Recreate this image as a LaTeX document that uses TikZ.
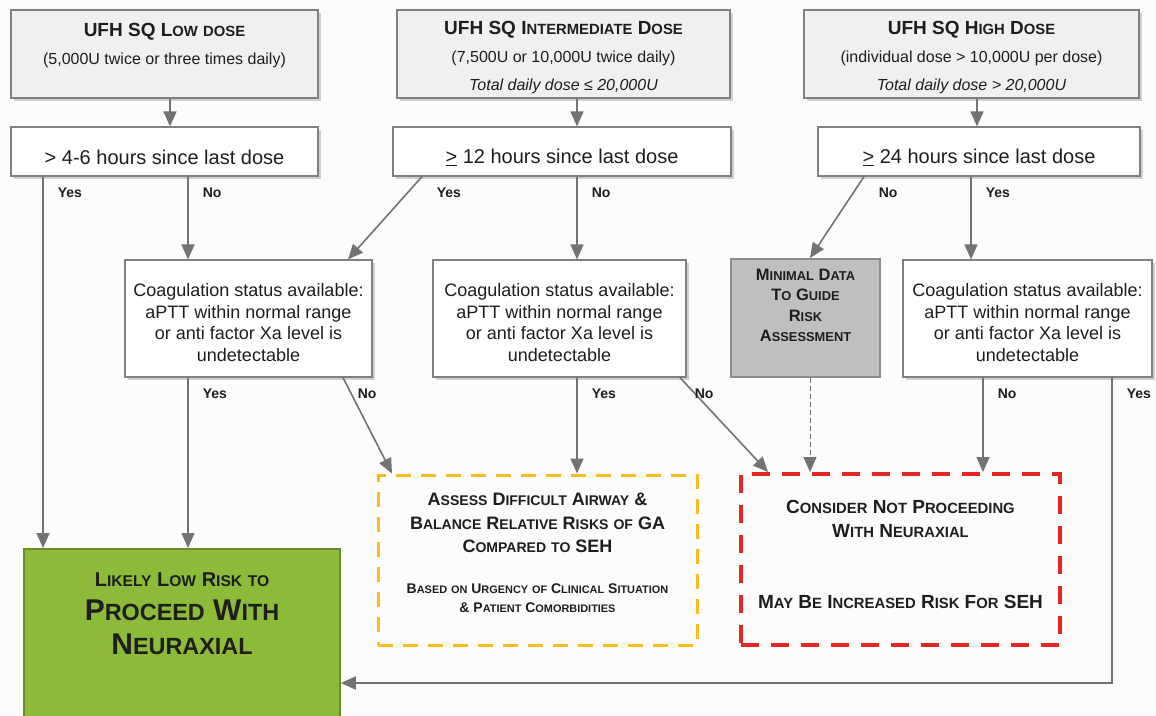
\documentclass[tikz,border=0pt]{standalone}
\usepackage{fontspec}
\setmainfont{Liberation Sans}
\usetikzlibrary{arrows.meta, positioning, shadows}

\definecolor{pagebg}{RGB}{252,252,250}
\definecolor{boxgray}{RGB}{128,128,128}
\definecolor{dosefill}{RGB}{240,240,240}
\definecolor{minfill}{RGB}{191,191,191}
\definecolor{mingray}{RGB}{140,140,140}
\definecolor{linegray}{RGB}{115,115,115}
\definecolor{ambyellow}{RGB}{248,190,30}
\definecolor{stopred}{RGB}{230,38,36}
\definecolor{gogreen}{RGB}{141,186,56}
\definecolor{goline}{RGB}{105,140,45}
\definecolor{inkblack}{RGB}{30,30,30}

% fake small capitals
\newcommand{\fsc}[1]{\scalebox{0.78}{#1}}
\newcommand{\smallline}{\fontsize{14}{14}\selectfont}
% extra room above a first line
\newcommand{\toppad}{\rule{0pt}{21pt}}

\begin{document}
\begin{tikzpicture}[
    x=1pt, y=-1pt,
    boxshadow/.style={drop shadow={shadow xshift=3pt, shadow yshift=-3pt, opacity=0.35}},
    dosebox/.style={
        rectangle, draw=boxgray, fill=dosefill, line width=1.2pt, boxshadow,
        minimum height=88pt, align=center, inner sep=2pt, text=inkblack,
        font=\fontsize{16}{28}\selectfont
    },
    timebox/.style={
        rectangle, draw=boxgray, fill=white, line width=1.2pt, boxshadow,
        minimum height=49pt, text height=26pt, inner sep=2pt, text=inkblack,
        font=\fontsize{20}{24}\selectfont
    },
    coagbox/.style={
        rectangle, draw=boxgray, fill=white, line width=1.2pt, boxshadow,
        minimum height=117pt, align=center, inner sep=2pt, text=inkblack,
        font=\fontsize{18}{21.5}\selectfont
    },
    minbox/.style={
        rectangle, draw=mingray, fill=minfill, line width=2pt,
        minimum width=149pt, minimum height=118pt, align=center, text=inkblack,
        font=\fontsize{16.5}{20.5}\selectfont\bfseries
    },
    ambbox/.style={
        rectangle, draw=ambyellow, line width=3pt, dash pattern=on 15pt off 10pt,
        minimum width=319pt, minimum height=170pt, align=center, text=inkblack,
        font=\fontsize{18}{23.5}\selectfont\bfseries
    },
    stopbox/.style={
        rectangle, draw=stopred, line width=4pt, dash pattern=on 18pt off 12pt,
        minimum width=319pt, minimum height=171pt, align=center, text=inkblack,
        font=\fontsize{19}{24}\selectfont\bfseries
    },
    gobox/.style={
        rectangle, draw=goline, fill=gogreen, line width=1.5pt,
        minimum width=316pt, minimum height=180pt, align=center, text=inkblack,
        font=\fontsize{30}{34}\selectfont\bfseries
    },
    arrow/.style={-{Triangle[length=15pt,width=13pt]}, draw=linegray, line width=1.6pt},
    dasharrow/.style={arrow, line width=1pt, dash pattern=on 5pt off 3pt},
    lab/.style={pos=0, anchor=north west, xshift=14pt, yshift=-10pt, inner sep=0pt,
        text=inkblack, font=\fontsize{14}{14}\selectfont\bfseries}
]

\path[use as bounding box, fill=pagebg] (0,0) rectangle (1156,715);

% Dose regimens
\node[dosebox, minimum width=307pt] (top1) at (164.5,54)
    {\toppad{\fontsize{19}{28}\selectfont\bfseries UFH SQ L\fsc{OW} \fsc{DOSE}}\\(5,000U twice or three times daily)\\\mbox{}};
\node[dosebox, minimum width=333pt] (top2) at (563.5,54)
    {\toppad{\fontsize{19}{28}\selectfont\bfseries UFH SQ I\fsc{NTERMEDIATE} D\fsc{OSE}}\\(7,500U or 10,000U twice daily)\\\textit{Total daily dose ≤ 20,000U}};
\node[dosebox, minimum width=335pt] (top3) at (971.5,54)
    {\toppad{\fontsize{19}{28}\selectfont\bfseries UFH SQ H\fsc{IGH} D\fsc{OSE}}\\(individual dose > 10,000U per dose)\\\textit{Total daily dose > 20,000U}};

% Time since last dose
\node[timebox, minimum width=307pt] (hrs1) at (164.5,151.5) {> 4-6 hours since last dose};
\node[timebox, minimum width=338pt] (hrs2) at (562,151.5) {\underline{>} 12 hours since last dose};
\node[timebox, minimum width=322pt] (hrs3) at (979,151.5) {\underline{>} 24 hours since last dose};

% Coagulation status
\node[coagbox, minimum width=247pt] (coag1) at (248.5,318.5)
    {\toppad Coagulation status available:\\aPTT within normal range\\or anti factor Xa level is\\undetectable};
\node[coagbox, minimum width=253pt] (coag2) at (559.5,318.5)
    {\toppad Coagulation status available:\\aPTT within normal range\\or anti factor Xa level is\\undetectable};
\node[minbox] (minimal) at (805.5,318)
    {M\fsc{INIMAL} D\fsc{ATA}\\T\fsc{O} G\fsc{UIDE}\\R\fsc{ISK}\\A\fsc{SSESSMENT}\\[4.5pt]\mbox{}};
\node[coagbox, minimum width=249pt] (coag3) at (1027.5,318.5)
    {\toppad Coagulation status available:\\aPTT within normal range\\or anti factor Xa level is\\undetectable};

% Outcomes
\node[ambbox] (assess) at (537.5,560)
    {A\fsc{SSESS} D\fsc{IFFICULT} A\fsc{IRWAY} \&\\B\fsc{ALANCE} R\fsc{ELATIVE} R\fsc{ISKS} \fsc{OF} GA\\C\fsc{OMPARED} \fsc{TO} SEH\\[17.5pt]
     \smallline B\fsc{ASED} \fsc{ON} U\fsc{RGENCY} \fsc{OF} C\fsc{LINICAL} S\fsc{ITUATION}\\[-5pt]\smallline \& P\fsc{ATIENT} C\fsc{OMORBIDITIES}\\[-9.5pt]\mbox{}};
\node[stopbox] (notproceed) at (900.5,559.5)
    {C\fsc{ONSIDER} N\fsc{OT} P\fsc{ROCEEDING}\\W\fsc{ITH} N\fsc{EURAXIAL}\\[47pt]M\fsc{AY} B\fsc{E} I\fsc{NCREASED} R\fsc{ISK} F\fsc{OR} SEH\\[-14pt]\mbox{}};
\node[gobox, anchor=north] (lowrisk) at (182,548)
    {{\fontsize{20}{34}\selectfont L\fsc{IKELY} L\fsc{OW} R\fsc{ISK} \fsc{TO}}\\P\fsc{ROCEED} W\fsc{ITH}\\N\fsc{EURAXIAL}\\[16pt]\mbox{}};

\coordinate (yesturn) at (1112,683);

% Dose to time
\draw[arrow] ([xshift=5.5pt]top1.south)  -- ([xshift=5.5pt]hrs1.north);
\draw[arrow] ([xshift=13.5pt]top2.south) -- ([xshift=15pt]hrs2.north);
\draw[arrow] ([xshift=5.5pt]top3.south)  -- ([xshift=-2pt]hrs3.north);

% Time to coagulation status
\draw[arrow] ([xshift=-121.5pt]hrs1.south) -- node[lab]{Yes} ([xshift=-139pt]lowrisk.north);
\draw[arrow] ([xshift=23.5pt]hrs1.south)   -- node[lab]{No}  ([xshift=-60.5pt]coag1.north);
\draw[arrow] ([xshift=-140pt]hrs2.south)   -- node[lab]{Yes} ([xshift=99.5pt]coag1.north);
\draw[arrow] ([xshift=15pt]hrs2.south)     -- node[lab]{No}  ([xshift=17.5pt]coag2.north);
\draw[arrow] ([xshift=-115pt]hrs3.south)   -- node[lab]{No}  ([xshift=4.5pt]minimal.north);
\draw[arrow] ([xshift=-8pt]hrs3.south)     -- node[lab]{Yes} ([xshift=-56.5pt]coag3.north);

% Coagulation status to outcomes
\draw[arrow] ([xshift=-60.5pt]coag1.south) -- node[lab]{Yes} ([xshift=6pt]lowrisk.north);
\draw[arrow] ([xshift=94.5pt]coag1.south)  -- node[lab]{No}  ([xshift=-145.5pt]assess.north);
\draw[arrow] ([xshift=17.5pt]coag2.south)  -- node[lab]{Yes} ([xshift=39.5pt]assess.north);
\draw[arrow] ([xshift=120.5pt]coag2.south) -- node[lab]{No}  ([xshift=-132.5pt]notproceed.north);
\draw[dasharrow] ([xshift=4.5pt]minimal.south) -- ([xshift=-90.5pt]notproceed.north);
\draw[arrow] ([xshift=-44.5pt]coag3.south) -- node[lab]{No}  ([xshift=82.5pt]notproceed.north);
\draw[arrow] ([xshift=84.5pt]coag3.south)  -- node[lab]{Yes} (yesturn) -- (yesturn -| lowrisk.east);

\end{tikzpicture}
\end{document}
